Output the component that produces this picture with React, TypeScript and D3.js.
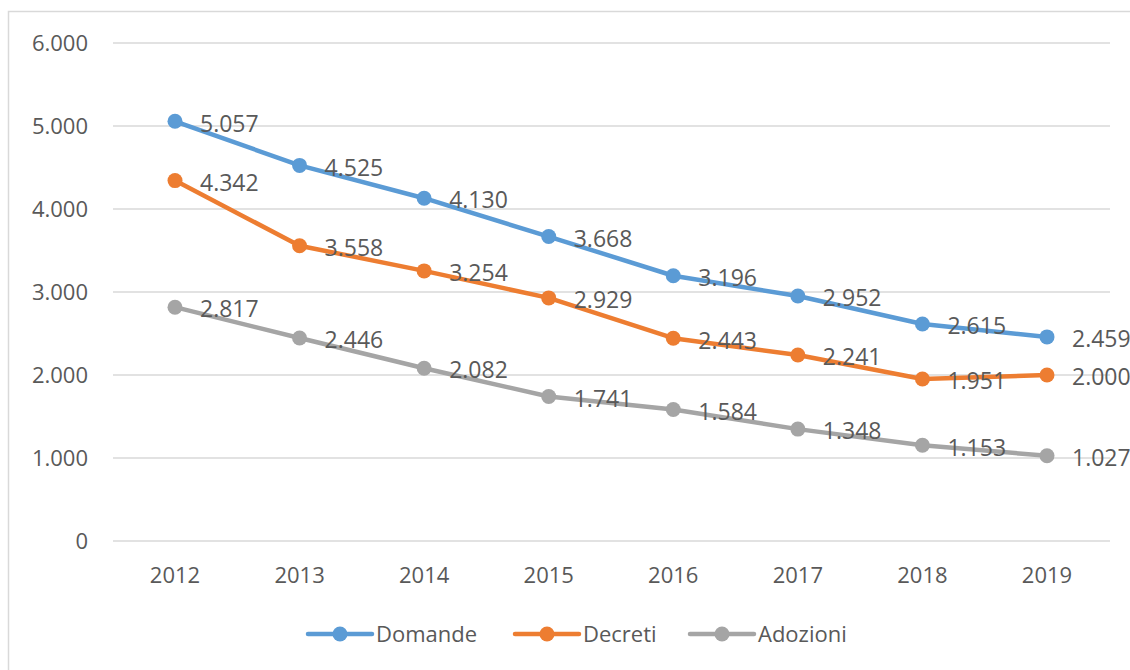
import React from "react";
import * as d3 from "d3";

const years = ["2012", "2013", "2014", "2015", "2016", "2017", "2018", "2019"];
const domande = [5057, 4525, 4130, 3668, 3196, 2952, 2615, 2459];
const decreti = [4342, 3558, 3254, 2929, 2443, 2241, 1951, 2000];
const adozioni = [2817, 2446, 2082, 1741, 1584, 1348, 1153, 1027];
const yTicks = [0, 1000, 2000, 3000, 4000, 5000, 6000];

const seriesList = [
  { name: "Domande", values: domande, color: "#5B9BD5" },
  { name: "Decreti", values: decreti, color: "#ED7D31" },
  { name: "Adozioni", values: adozioni, color: "#A5A5A5" },
];

const W = 1130;
const H = 670;
const FONT = "'Open Sans', 'Noto Sans', sans-serif";
const TEXT = "#595959";

const fmt = (v: number) => d3.format(",")(v).replace(/,/g, ".");

export default function App() {
  const x = d3.scalePoint<string>().domain(years).range([175, 1047]);
  const y = d3.scaleLinear().domain([0, 6000]).range([541, 43]);
  const line = d3
    .line<number>()
    .x((_, i) => x(years[i]) as number)
    .y((d) => y(d));

  const legendX = [308, 515, 690];

  return (
    <svg
      width={W}
      height={H}
      style={{ position: "absolute", left: 0, top: 0, background: "#fff" }}
      fontFamily={FONT}
    >
      <rect x={0} y={0} width={W} height={H} fill="#fff" />
      {/* outer border */}
      <path d={`M8.5,${H} L8.5,11.5 L${W},11.5`} fill="none" stroke="#D9D9D9" strokeWidth={1.5} />
      {/* gridlines */}
      {yTicks.map((t) => (
        <g key={t}>
          <line x1={113} x2={1110} y1={y(t)} y2={y(t)} stroke="#D9D9D9" strokeWidth={1.5} />
          <text
            x={88}
            y={y(t)}
            dy="0.36em"
            textAnchor="end"
            fontSize={22}
            fill={TEXT}
          >
            {fmt(t)}
          </text>
        </g>
      ))}
      {/* x labels */}
      {years.map((yr) => (
        <text
          key={yr}
          x={x(yr) as number}
          y={583}
          textAnchor="middle"
          fontSize={22}
          fill={TEXT}
        >
          {yr}
        </text>
      ))}
      {/* series */}
      {seriesList.map((s) => (
        <g key={s.name}>
          <path
            d={line(s.values) || ""}
            fill="none"
            stroke={s.color}
            strokeWidth={4.5}
            strokeLinejoin="round"
            strokeLinecap="round"
          />
          {s.values.map((v, i) => (
            <circle key={i} cx={x(years[i]) as number} cy={y(v)} r={7.5} fill={s.color} />
          ))}
        </g>
      ))}
      {/* data labels */}
      {seriesList.map((s) => (
        <g key={s.name + "-l"}>
          {s.values.map((v, i) => (
            <text
              key={i}
              x={(x(years[i]) as number) + 25}
              y={y(v) + 2}
              dy="0.36em"
              fontSize={23}
              fill={TEXT}
            >
              {fmt(v)}
            </text>
          ))}
        </g>
      ))}
      {/* legend */}
      {seriesList.map((s, i) => (
        <g key={s.name + "-leg"}>
          <line
            x1={legendX[i]}
            x2={legendX[i] + 64}
            y1={634}
            y2={634}
            stroke={s.color}
            strokeWidth={4.5}
            strokeLinecap="round"
          />
          <circle cx={legendX[i] + 32} cy={634} r={7.5} fill={s.color} />
          <text x={legendX[i] + 68} y={634} dy="0.36em" fontSize={22} fill={TEXT}>
            {s.name}
          </text>
        </g>
      ))}
    </svg>
  );
}
